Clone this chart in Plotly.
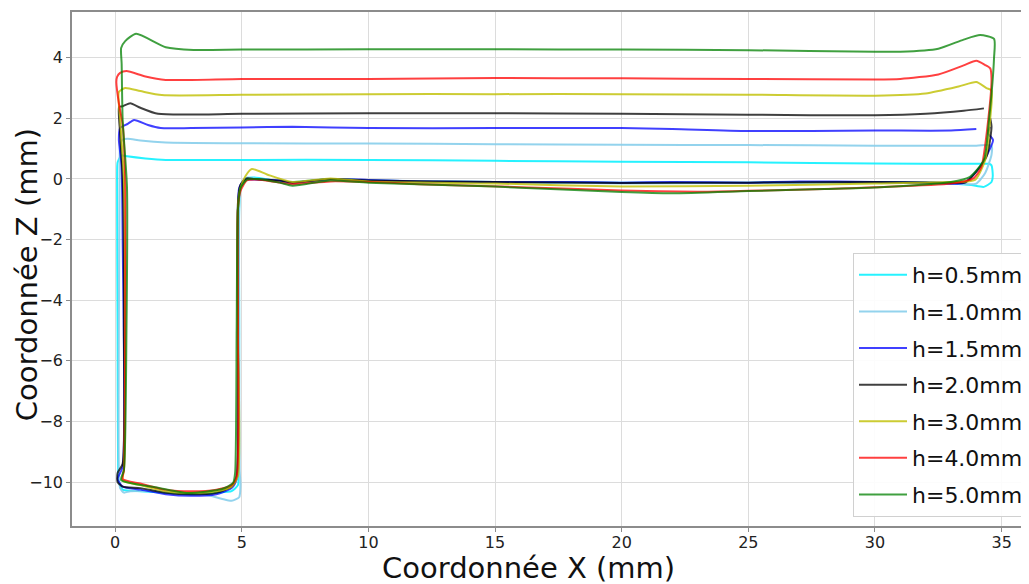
import plotly.graph_objects as go

# ---- data ----
labels = ["h=0.5mm", "h=1.0mm", "h=1.5mm", "h=2.0mm", "h=3.0mm", "h=4.0mm", "h=5.0mm"]
colors = ["rgba(0,240,255,0.85)", "rgba(135,206,235,0.9)", "rgba(0,0,255,0.75)",
          "rgba(0,0,0,0.75)", "rgba(191,191,0,0.8)", "rgba(255,0,0,0.75)", "rgba(0,128,0,0.75)"]

x_h05 = [34.5, 34.0, 30, 25, 20, 15, 10, 5, 2, 1.2, 0.4, 0.25, 0.1, 0.08, 0.1, 0.12, 0.15, 0.3, 1, 2, 3, 4, 4.6, 4.85, 4.88, 4.9, 4.9, 4.95, 5.15, 5.5, 6.5, 7, 8.5, 10, 15, 20, 25, 30, 33, 33.8, 34.3, 34.6, 34.65, 34.6, 34.5]
z_h05 = [0.5, 0.5, 0.51, 0.55, 0.57, 0.6, 0.63, 0.63, 0.63, 0.68, 0.76, 0.78, 0.55, 0.0, -5, -9.5, -10.0, -10.25, -10.3, -10.35, -10.4, -10.35, -10.3, -10.1, -9.6, -5, -1, -0.3, 0.02, 0.05, -0.08, -0.1, 0.0, -0.05, -0.1, -0.12, -0.12, -0.1, -0.15, -0.2, -0.26, -0.1, 0.1, 0.45, 0.5]

x_h10 = [34.4, 34.0, 30, 25, 20, 15, 10, 5, 2, 1.0, 0.5, 0.3, 0.2, 0.18, 0.15, 0.15, 0.2, 0.35, 0.6, 1.5, 2.5, 3.5, 4.2, 4.6, 4.9, 4.95, 4.92, 4.9, 4.9, 4.95, 5.15, 5.5, 7, 8.5, 10, 15, 20, 25, 30, 33, 34.0, 34.35, 34.6, 34.6, 34.4]
z_h10 = [1.12, 1.1, 1.1, 1.12, 1.13, 1.15, 1.17, 1.18, 1.2, 1.27, 1.33, 1.3, 1.1, 0.0, -5, -9.6, -10.2, -10.35, -10.3, -10.3, -10.35, -10.4, -10.55, -10.62, -10.5, -10.1, -9.6, -5, -1, -0.3, 0.03, 0.02, -0.12, 0.0, -0.05, -0.1, -0.15, -0.13, -0.12, -0.15, -0.15, 0.2, 0.8, 1.1, 1.12]

x_h15 = [34.0, 33, 30, 25, 22, 20, 15, 10, 7, 5, 3, 1.8, 1.3, 0.75, 0.5, 0.2, 0.15, 0.25, 0.3, 0.3, 0.1, 0.3, 1, 2, 3, 4, 4.6, 4.8, 4.85, 4.85, 4.9, 5.1, 5.5, 6.5, 7, 8.5, 10, 12, 15, 18, 20, 22, 25, 27, 30, 32, 33.5, 34.15, 34.66, 34.47, 34.55]
z_h15 = [1.65, 1.6, 1.6, 1.58, 1.65, 1.68, 1.68, 1.68, 1.72, 1.7, 1.68, 1.68, 1.78, 1.95, 1.82, 1.68, 1.3, 0.5, -2, -9.5, -9.9, -10.15, -10.25, -10.4, -10.45, -10.4, -10.2, -9.9, -5, -1, -0.3, -0.02, -0.02, -0.05, -0.12, 0.0, -0.03, -0.08, -0.1, -0.1, -0.12, -0.1, -0.12, -0.08, -0.1, -0.12, -0.13, 0.4, 1.29, 1.5, 1.72]

x_h20 = [34.3, 33.5, 32, 30, 25, 20, 15, 10, 5, 1.7, 1.0, 0.6, 0.3, 0.16, 0.2, 0.3, 0.35, 0.3, 0.1, 0.1, 0.3, 1, 2, 3, 4, 4.6, 4.8, 4.85, 4.85, 4.95, 5.2, 5.5, 6.5, 7, 8.5, 10, 15, 20, 25, 30, 33, 33.6, 34.4, 34.6, 34.55]
z_h20 = [2.33, 2.25, 2.15, 2.1, 2.12, 2.15, 2.17, 2.17, 2.15, 2.15, 2.35, 2.5, 2.4, 2.38, 1.5, 0.0, -5, -9.4, -9.7, -10.0, -10.15, -10.2, -10.35, -10.4, -10.35, -10.15, -9.8, -5, -0.8, -0.2, 0.02, 0.0, -0.05, -0.12, 0.0, -0.05, -0.1, -0.13, -0.12, -0.1, -0.12, -0.1, 0.73, 1.72, 2.0]

x_h30 = [34.4, 34.0, 33.3, 32, 30, 25, 20, 15, 10, 5, 1.85, 1.0, 0.4, 0.15, 0.2, 0.35, 0.4, 0.35, 0.3, 1, 2, 3, 4, 4.6, 4.85, 4.85, 4.85, 4.95, 5.15, 5.4, 6, 7, 8.5, 10, 15, 20, 25, 30, 33, 33.95, 34.35, 34.55, 34.6, 34.4]
z_h30 = [3.0, 3.2, 3.05, 2.82, 2.75, 2.78, 2.8, 2.8, 2.8, 2.78, 2.77, 2.9, 3.0, 2.87, 2.0, 0.0, -5, -9.6, -9.95, -10.1, -10.3, -10.35, -10.3, -10.15, -9.8, -5, -1, -0.3, 0.1, 0.33, 0.15, -0.1, 0.02, -0.08, -0.15, -0.25, -0.22, -0.15, -0.1, -0.03, 0.63, 2.0, 2.93, 3.0]

x_h40 = [34.55, 34.35, 34.0, 33.5, 32.5, 31, 30, 25, 20, 15, 10, 5, 2, 1.2, 0.45, 0.2, 0.08, 0.05, 0.15, 0.3, 0.4, 0.4, 0.35, 0.3, 1, 2, 3, 4, 4.6, 4.8, 4.85, 4.85, 4.95, 5.2, 5.6, 6.5, 7, 8.5, 10, 12, 16, 20, 23, 25, 28, 30, 33, 33.9, 34.2, 34.47, 34.6, 34.55]
z_h40 = [3.65, 3.76, 3.9, 3.75, 3.45, 3.3, 3.28, 3.3, 3.32, 3.33, 3.3, 3.3, 3.27, 3.38, 3.56, 3.5, 3.37, 3.2, 2.5, 1.8, 0.0, -5, -9.6, -9.9, -10.05, -10.25, -10.3, -10.25, -10.1, -9.8, -5, -1, -0.4, -0.05, -0.02, -0.12, -0.17, -0.08, -0.1, -0.17, -0.27, -0.38, -0.42, -0.39, -0.33, -0.27, -0.15, 0.03, 0.4, 1.95, 3.3, 3.65]

x_h50 = [34.7, 34.15, 33.5, 32.5, 31, 30, 25, 20, 15, 10, 5, 3.1, 2, 0.83, 0.4, 0.24, 0.26, 0.3, 0.47, 0.45, 0.35, 0.24, 1.58, 2.88, 4.22, 4.66, 4.74, 4.8, 4.85, 4.95, 5.2, 5.6, 6.5, 7, 8.5, 10, 15, 20, 22, 25, 28, 30, 33, 33.75, 34.3, 34.5, 34.7, 34.7]
z_h50 = [4.62, 4.75, 4.6, 4.3, 4.2, 4.2, 4.25, 4.27, 4.28, 4.28, 4.27, 4.26, 4.35, 4.79, 4.55, 4.32, 3.8, 1.95, -0.26, -5, -9.6, -9.93, -10.17, -10.36, -10.23, -10.03, -9.7, -5, -1, -0.3, -0.02, 0.0, -0.12, -0.22, -0.05, -0.12, -0.25, -0.43, -0.47, -0.4, -0.33, -0.28, -0.1, 0.07, 0.63, 1.95, 4.0, 4.62]

xs = [x_h05, x_h10, x_h15, x_h20, x_h30, x_h40, x_h50]
zs = [z_h05, z_h10, z_h15, z_h20, z_h30, z_h40, z_h50]

x_ticks = [0, 5, 10, 15, 20, 25, 30, 35]
z_ticks = [-10, -8, -6, -4, -2, 0, 2, 4]

FONT = "DejaVu Sans"

# The page body has an 8px default margin, so the figure is offset by 8px;
# sizes and margins below compensate for that.
fig = go.Figure()
for i in range(len(labels)):
    fig.add_trace(go.Scatter(
        x=xs[i], y=zs[i], mode="lines", name=labels[i],
        line=dict(color=colors[i], width=2, shape="spline", smoothing=0.6),
        legendgroup=labels[i],
    ))

axis_common = dict(
    showgrid=True, gridcolor="#dcdcdc", gridwidth=1.3,
    zeroline=False, showline=True, linecolor="#8c8c8c", linewidth=1.5,
    ticks="outside", ticklen=4, tickwidth=1.3, tickcolor="#8c8c8c",
    tickfont=dict(family=FONT, size=16, color="#222222"),
)

fig.update_layout(
    width=1021, height=576,
    margin=dict(l=64, r=0, t=4, b=58),
    paper_bgcolor="white", plot_bgcolor="white",
    font=dict(family=FONT, color="#111111"),
    showlegend=True,
    legend=dict(
        x=1.0, xanchor="right", y=0.531, yanchor="top",
        bgcolor="rgba(255,255,255,0.9)", bordercolor="#d0d0d0", borderwidth=1,
        font=dict(family=FONT, size=22, color="#111111"),
        tracegroupgap=5, itemwidth=48,
    ),
    xaxis=dict(range=[-1.70, 36.08], tickvals=x_ticks, mirror=True,
               ticklabelstandoff=-3, **axis_common),
    yaxis=dict(range=[-11.45, 5.51], tickvals=z_ticks, **axis_common),
    annotations=[
        dict(text="Coordonnée X (mm)", xref="paper", yref="paper", x=(528 - 72) / 957, y=0,
             xanchor="center", yanchor="top", yshift=-23, showarrow=False,
             font=dict(family=FONT, size=29, color="#111111")),
        dict(text="Coordonnée Z (mm)", xref="paper", yref="paper", x=0, y=0.488,
             xanchor="center", yanchor="middle", xshift=-45, textangle=-90, showarrow=False,
             font=dict(family=FONT, size=29, color="#111111")),
    ],
)

fig.write_html("out.html")
